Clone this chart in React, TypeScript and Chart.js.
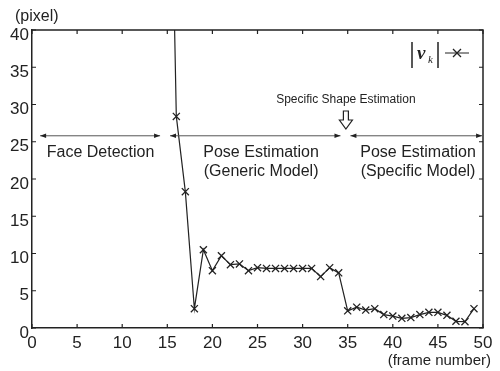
import React, { useEffect, useRef } from "react";
import { Chart, registerables } from "chart.js";

Chart.register(...registerables);

const frames = [15, 16, 17, 18, 19, 20, 21, 22, 23, 24, 25, 26, 27, 28, 29, 30, 31, 32, 33, 34, 35, 36, 37, 38, 39, 40, 41, 42, 43, 44, 45, 46, 47, 48, 49];
const vk = [90, 28.4, 18.3, 2.6, 10.5, 7.7, 9.7, 8.5, 8.6, 7.7, 8.1, 8.0, 8.0, 8.0, 8.0, 8.0, 8.0, 6.9, 8.1, 7.4, 2.3, 2.8, 2.4, 2.6, 1.8, 1.6, 1.3, 1.4, 1.8, 2.1, 2.1, 1.7, 0.9, 0.85, 2.6];

const xTicks = [0, 5, 10, 15, 20, 25, 30, 35, 40, 45, 50];
const yTicks = [0, 5, 10, 15, 20, 25, 30, 35, 40];

const phaseArrowY = 25.8;
const phases = [
  { from: 0.9, to: 14.2, lines: ["Face Detection"], center: 7.6 },
  { from: 15.3, to: 34.2, lines: ["Pose Estimation", "(Generic Model)"], center: 25.4 },
  { from: 35.3, to: 49.9, lines: ["Pose Estimation", "(Specific Model)"], center: 42.8 },
];
const shapeEventFrame = 34.8;
const shapeEventLabel = "Specific Shape Estimation";

const INK = "#222";
const SANS = "'Liberation Sans', Arial, sans-serif";

const decor = {
  id: "decor",
  afterDraw(chart: any) {
    const ctx = chart.ctx;
    const { left, right, top, bottom } = chart.chartArea;
    const xs = chart.scales.x;
    const ys = chart.scales.y;
    ctx.save();
    // frame top/right
    ctx.strokeStyle = INK;
    ctx.lineWidth = 1.5;
    ctx.beginPath();
    ctx.moveTo(left, top);
    ctx.lineTo(right, top);
    ctx.lineTo(right, bottom);
    ctx.stroke();
    // inward ticks
    ctx.lineWidth = 1.2;
    ctx.beginPath();
    xTicks.forEach((t) => {
      const px = xs.getPixelForValue(t);
      ctx.moveTo(px, bottom);
      ctx.lineTo(px, bottom - 4);
      ctx.moveTo(px, top);
      ctx.lineTo(px, top + 4);
    });
    yTicks.forEach((t) => {
      const py = ys.getPixelForValue(t);
      ctx.moveTo(left, py);
      ctx.lineTo(left + 4, py);
      ctx.moveTo(right, py);
      ctx.lineTo(right - 4, py);
    });
    ctx.stroke();

    // phase arrows
    const ay = ys.getPixelForValue(phaseArrowY);
    ctx.strokeStyle = "#555";
    ctx.fillStyle = INK;
    ctx.lineWidth = 1;
    phases.forEach((p) => {
      const x1 = xs.getPixelForValue(p.from);
      const x2 = xs.getPixelForValue(p.to);
      ctx.beginPath();
      ctx.moveTo(x1, ay);
      ctx.lineTo(x2, ay);
      ctx.stroke();
      ctx.beginPath();
      ctx.moveTo(x1, ay);
      ctx.lineTo(x1 + 6, ay - 2.2);
      ctx.lineTo(x1 + 6, ay + 2.2);
      ctx.closePath();
      ctx.moveTo(x2, ay);
      ctx.lineTo(x2 - 6, ay - 2.2);
      ctx.lineTo(x2 - 6, ay + 2.2);
      ctx.closePath();
      ctx.fill();
      ctx.font = `16px ${SANS}`;
      ctx.textAlign = "center";
      ctx.textBaseline = "middle";
      const cx = xs.getPixelForValue(p.center);
      p.lines.forEach((ln, i) => {
        ctx.fillText(ln, cx, ay + 17 + i * 19);
      });
    });

    // specific shape estimation event
    const ex = xs.getPixelForValue(shapeEventFrame);
    ctx.font = `12px ${SANS}`;
    ctx.textAlign = "center";
    ctx.textBaseline = "middle";
    ctx.fillStyle = INK;
    ctx.fillText(shapeEventLabel, ex, 100);
    ctx.beginPath();
    ctx.moveTo(ex - 2.5, 111);
    ctx.lineTo(ex + 2.5, 111);
    ctx.lineTo(ex + 2.5, 120);
    ctx.lineTo(ex + 6.5, 120);
    ctx.lineTo(ex, 129);
    ctx.lineTo(ex - 6.5, 120);
    ctx.lineTo(ex - 2.5, 120);
    ctx.closePath();
    ctx.fillStyle = "#fff";
    ctx.fill();
    ctx.strokeStyle = INK;
    ctx.lineWidth = 1.2;
    ctx.stroke();

    // unit labels
    ctx.fillStyle = INK;
    ctx.font = `16px ${SANS}`;
    ctx.textAlign = "left";
    ctx.textBaseline = "middle";
    ctx.fillText("(pixel)", 15, 17);
    ctx.font = `15px ${SANS}`;
    ctx.textAlign = "right";
    ctx.fillText("(frame number)", 491, 361);

    // legend
    ctx.strokeStyle = INK;
    ctx.lineWidth = 1.5;
    ctx.beginPath();
    ctx.moveTo(412, 42);
    ctx.lineTo(412, 68);
    ctx.moveTo(438, 42);
    ctx.lineTo(438, 68);
    ctx.stroke();
    ctx.textAlign = "left";
    ctx.textBaseline = "alphabetic";
    ctx.font = "italic bold 19px 'Liberation Serif', serif";
    ctx.fillText("v", 417, 59);
    ctx.font = "italic 11px 'Liberation Serif', serif";
    ctx.fillText("k", 428, 63);
    ctx.lineWidth = 1;
    ctx.beginPath();
    ctx.moveTo(445, 53);
    ctx.lineTo(469, 53);
    ctx.stroke();
    ctx.lineWidth = 1.3;
    ctx.beginPath();
    ctx.moveTo(453, 49);
    ctx.lineTo(461, 57);
    ctx.moveTo(461, 49);
    ctx.lineTo(453, 57);
    ctx.stroke();
    ctx.restore();
  },
};

export default function App() {
  const ref = useRef<HTMLCanvasElement>(null);
  useEffect(() => {
    if (!ref.current) return;
    const chart = new Chart(ref.current, {
      type: "line",
      data: {
        datasets: [
          {
            data: frames.map((f, i) => ({ x: f, y: vk[i] })),
            borderColor: INK,
            borderWidth: 1.2,
            pointStyle: "crossRot",
            pointRadius: 5,
            pointBorderWidth: 1.3,
            pointBorderColor: INK,
            pointBackgroundColor: INK,
            tension: 0,
          },
        ],
      },
      options: {
        animation: false,
        responsive: false,
        layout: { padding: { top: 30, right: 17, left: 0, bottom: 0 } },
        plugins: { legend: { display: false }, tooltip: { enabled: false } },
        scales: {
          x: {
            type: "linear",
            min: 0,
            max: 50,
            afterFit: (s: any) => {
              s.height = 43;
            },
            afterBuildTicks: (s: any) => {
              s.ticks = xTicks.map((v) => ({ value: v }));
            },
            ticks: {
              color: INK,
              font: { family: SANS, size: 17 },
              padding: 5,
              maxRotation: 0,
              autoSkip: false,
            },
            grid: { drawOnChartArea: false, drawTicks: false },
            border: { display: true, color: INK, width: 1.5 },
          },
          y: {
            type: "linear",
            min: 0,
            max: 40,
            afterFit: (s: any) => {
              s.width = 32;
            },
            afterBuildTicks: (s: any) => {
              s.ticks = yTicks.map((v) => ({ value: v }));
            },
            ticks: {
              color: INK,
              font: { family: SANS, size: 17 },
              padding: 3,
              labelOffset: 5,
              autoSkip: false,
            },
            grid: { drawOnChartArea: false, drawTicks: false },
            border: { display: true, color: INK, width: 1.5 },
          },
        },
      },
      plugins: [decor],
    } as any);
    return () => chart.destroy();
  }, []);
  return (
    <div style={{ position: "fixed", left: 0, top: 0, width: 500, height: 371, background: "#fff" }}>
      <canvas ref={ref} width={500} height={371} style={{ width: 500, height: 371, display: "block" }} />
    </div>
  );
}
